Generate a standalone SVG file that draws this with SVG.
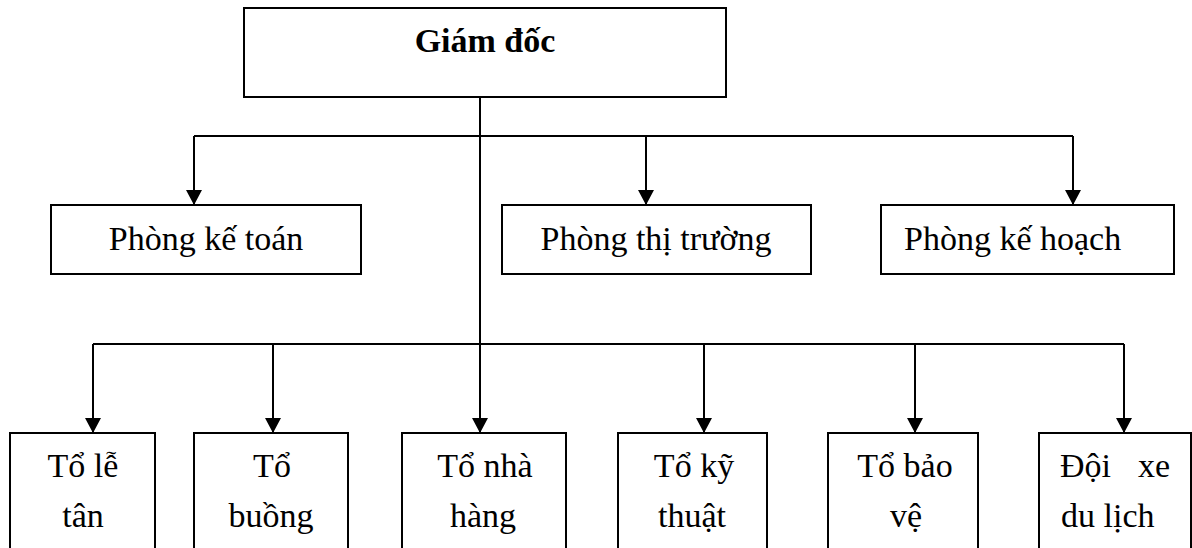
<svg xmlns="http://www.w3.org/2000/svg" width="1192" height="548" viewBox="0 0 1192 548">
  <defs>
    <marker id="arr" viewBox="0 0 15 16" refX="15" refY="8" markerWidth="15" markerHeight="16" markerUnits="userSpaceOnUse" orient="auto">
      <path d="M0,0 L15,8 L0,16 z" fill="#000"/>
    </marker>
    <style>
      .box { fill: #fff; stroke: #000; stroke-width: 2; }
      .t { font-family: 'Liberation Serif', 'Tinos', 'DejaVu Serif', serif; font-size: 34px; fill: #000; }
      .b { font-weight: bold; }
      .c { text-anchor: middle; }
      .ln { fill: none; stroke: #000; stroke-width: 2; }
      .ar { fill: none; stroke: #000; stroke-width: 2; marker-end: url(#arr); }
    </style>
  </defs>
  <rect width="1192" height="548" fill="#fff"/>

  <g id="connectors">
    <line class="ln" x1="480" y1="97" x2="480" y2="344"/>
    <line class="ln" x1="194" y1="136" x2="1073" y2="136"/>
    <line class="ar" x1="194" y1="136" x2="194" y2="205"/>
    <line class="ar" x1="646" y1="136" x2="646" y2="205"/>
    <line class="ar" x1="1073" y1="136" x2="1073" y2="205"/>
    <line class="ln" x1="93" y1="344" x2="1124" y2="344"/>
    <line class="ar" x1="93" y1="344" x2="93" y2="433"/>
    <line class="ar" x1="273" y1="344" x2="273" y2="433"/>
    <line class="ar" x1="480" y1="344" x2="480" y2="433"/>
    <line class="ar" x1="704" y1="344" x2="704" y2="433"/>
    <line class="ar" x1="915" y1="344" x2="915" y2="433"/>
    <line class="ar" x1="1124" y1="344" x2="1124" y2="433"/>
  </g>

  <g id="giam-doc">
    <rect class="box" x="244" y="8" width="482" height="89"/>
    <text class="t b c" x="485" y="52">Giám đốc</text>
  </g>

  <g id="phong-ke-toan">
    <rect class="box" x="51" y="205" width="310" height="69"/>
    <text class="t c" x="206" y="250">Phòng kế toán</text>
  </g>
  <g id="phong-thi-truong">
    <rect class="box" x="502" y="205" width="309" height="69"/>
    <text class="t c" x="656" y="250">Phòng thị trường</text>
  </g>
  <g id="phong-ke-hoach">
    <rect class="box" x="881" y="205" width="293" height="69"/>
    <text class="t" x="904" y="250">Phòng kế hoạch</text>
  </g>

  <g id="to-le-tan">
    <rect class="box" x="10" y="433" width="145" height="130"/>
    <text class="t c" x="83" y="477">Tổ lễ</text>
    <text class="t c" x="83" y="527">tân</text>
  </g>
  <g id="to-buong">
    <rect class="box" x="194" y="433" width="154" height="130"/>
    <text class="t c" x="272" y="477">Tổ</text>
    <text class="t c" x="271" y="527">buồng</text>
  </g>
  <g id="to-nha-hang">
    <rect class="box" x="402" y="433" width="164" height="130"/>
    <text class="t c" x="485" y="477">Tổ nhà</text>
    <text class="t c" x="483" y="527">hàng</text>
  </g>
  <g id="to-ky-thuat">
    <rect class="box" x="618" y="433" width="149" height="130"/>
    <text class="t c" x="694" y="477">Tổ kỹ</text>
    <text class="t c" x="692" y="527">thuật</text>
  </g>
  <g id="to-bao-ve">
    <rect class="box" x="828" y="433" width="150" height="130"/>
    <text class="t c" x="905" y="477">Tổ bảo</text>
    <text class="t c" x="906" y="527">vệ</text>
  </g>
  <g id="doi-xe-du-lich">
    <rect class="box" x="1039" y="433" width="152" height="130"/>
    <text class="t" x="1060" y="477">Đội</text>
    <text class="t" x="1170" y="477" text-anchor="end">xe</text>
    <text class="t" x="1061" y="527">du lịch</text>
  </g>
</svg>
